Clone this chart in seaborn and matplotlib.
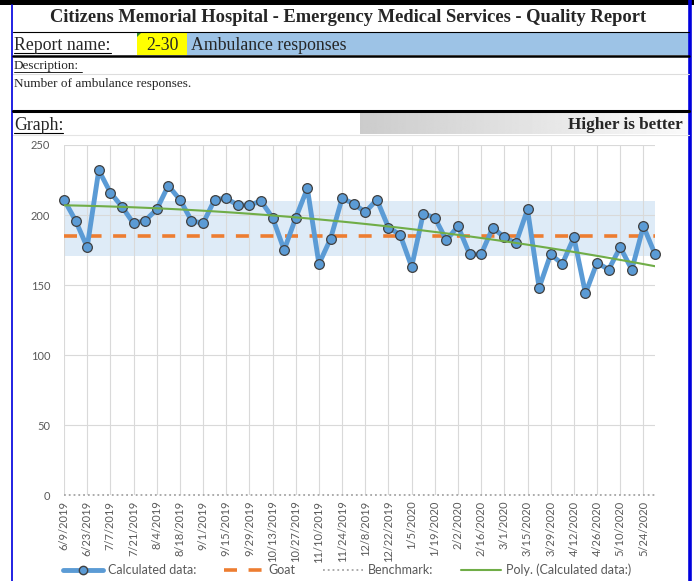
import numpy as np
import pandas as pd
import matplotlib
matplotlib.use("Agg")
import matplotlib.pyplot as plt
from matplotlib.patches import Rectangle, Polygon
from matplotlib.lines import Line2D
import seaborn as sns

# weekly ambulance responses, 6/9/2019 .. 5/31/2020
calculated = [211, 196, 177, 232, 216, 206, 194, 196, 204, 221,
              211, 196, 194, 211, 212, 207, 207, 210, 198, 175,
              198, 219, 165, 183, 212, 208, 202, 211, 191, 186,
              163, 201, 198, 182, 192, 172, 172, 191, 184, 180,
              204, 148, 172, 165, 184, 144, 166, 161, 177, 161,
              192, 172]
tick_labels = ["6/9/2019", "6/23/2019", "7/7/2019", "7/21/2019", "8/4/2019",
               "8/18/2019", "9/1/2019", "9/15/2019", "9/29/2019", "10/13/2019",
               "10/27/2019", "11/10/2019", "11/24/2019", "12/8/2019", "12/22/2019",
               "1/5/2020", "1/19/2020", "2/2/2020", "2/16/2020", "3/1/2020",
               "3/15/2020", "3/29/2020", "4/12/2020", "4/26/2020", "5/10/2020",
               "5/24/2020"]
goal = 185
benchmark = 0
band_low, band_high = 171, 210

sns.set_style("white")
plt.rcParams["font.family"] = ["Lato", "DejaVu Sans"]

W, H = 694, 581
fig = plt.figure(figsize=(W / 100, H / 100), dpi=100)

# header area, drawn in pixel coordinates
bg = fig.add_axes([0, 0, 1, 1])
bg.set_xlim(0, W)
bg.set_ylim(H, 0)
bg.axis("off")

serif = ["Liberation Serif", "DejaVu Serif"]
bg.add_patch(Rectangle((0, 0), W, 5, color="black", lw=0))
bg.plot([12.5, 12.5], [5, H], color="#1010e0", lw=1.3)
bg.plot([690.5, 690.5], [0, H], color="#0000dd", lw=2.6)

bg.text(348, 18, "Citizens Memorial Hospital - Emergency Medical Services - Quality Report",
        family=serif, weight="bold", fontsize=13.3, ha="center", va="center")
bg.plot([13, 689], [31.5, 31.5], color="black", lw=0.8)

bg.add_patch(Rectangle((187, 32), 502, 23, color="#9dc3e6", lw=0))
bg.add_patch(Rectangle((137, 32), 50, 23, color="#ffff00", lw=0))
bg.add_patch(Polygon([(137, 32), (142, 32), (137, 37)], color="#2e8b2e", lw=0))
bg.text(14, 45, "Report name:", family=serif, fontsize=12.8, va="center")
bg.plot([14, 111], [53, 53], color="black", lw=0.8)
bg.text(146, 45, "2-30", family=serif, fontsize=12.8, va="center")
bg.text(191, 45, "Ambulance responses", family=serif, fontsize=12.8, va="center")
bg.plot([13, 689], [56, 56], color="black", lw=1.8)

bg.text(14, 66, "Description:", family=serif, fontsize=9.5, va="center")
bg.plot([14, 82], [71.5, 71.5], color="black", lw=0.6)
bg.plot([13, 689], [74, 74], color="#dddddd", lw=0.8)
bg.text(14, 84, "Number of ambulance responses.", family=serif, fontsize=9.5, va="center")
bg.plot([13, 689], [110.5, 110.5], color="black", lw=2.2)

grad = np.linspace(0.80, 0.98, 256).reshape(1, -1)
bg.imshow(grad, cmap="gray", vmin=0, vmax=1, aspect="auto",
          extent=(360, 689, 134, 113), zorder=1)
bg.text(14, 125, "Graph:", family=serif, fontsize=12.8, va="center")
bg.plot([14, 63], [133, 133], color="black", lw=0.8)
bg.text(683, 125, "Higher is better", family=serif, weight="bold", fontsize=12.3,
        ha="right", va="center", zorder=2)
bg.plot([13, 689], [135, 135], color="#e4e4e4", lw=0.8)

# chart
ax = fig.add_axes([64 / W, 1 - 495 / H, 591 / W, 350 / H])
df = pd.DataFrame({"week": np.arange(len(calculated)), "responses": calculated})
coef = np.polyfit(df["week"], df["responses"], 2)
df["trend"] = np.polyval(coef, df["week"])

ax.axhspan(band_low, band_high, color="#deebf7", lw=0, zorder=0)
ax.axhline(goal, color="#ed7d31", lw=2.6, dashes=(3.6, 3.2), zorder=3)
ax.axhline(benchmark, color="#a5a5a5", lw=1.3, ls=":", zorder=3, clip_on=False)
sns.lineplot(data=df, x="week", y="responses", ax=ax, color="#5b9bd5", lw=3.5,
             marker="o", markersize=7, markerfacecolor="#5b9bd5",
             markeredgecolor="#404040", markeredgewidth=0.9, zorder=4, clip_on=False)
sns.lineplot(data=df, x="week", y="trend", ax=ax, color="#70ad47", lw=1.5, zorder=5)

ax.set_xlim(0, len(calculated) - 1)
ax.set_ylim(0, 250)
ax.set_yticks(range(0, 251, 50))
ax.set_xticks(range(0, len(calculated), 2))
ax.set_xticklabels(tick_labels, rotation=90)
ax.tick_params(axis="both", length=0, labelsize=8, labelcolor="#595959")
ax.tick_params(axis="x", pad=4)
ax.tick_params(axis="y", pad=10)
ax.grid(True, color="#d9d9d9", lw=0.8)
ax.set_axisbelow(True)
for s in ax.spines.values():
    s.set_visible(False)
ax.set_xlabel("")
ax.set_ylabel("")

handles = [
    Line2D([], [], color="#5b9bd5", lw=3.5, marker="o", markersize=6,
           markerfacecolor="#5b9bd5", markeredgecolor="#404040"),
    Line2D([], [], color="#ed7d31", lw=2.6, dashes=(3.6, 3.2)),
    Line2D([], [], color="#a5a5a5", lw=1.3, ls=":"),
    Line2D([], [], color="#70ad47", lw=1.5),
]
labels = ["Calculated data:", "Goat", "Benchmark:", "Poly. (Calculated data:)"]
fig.legend(handles, labels, loc="center", bbox_to_anchor=(0.5, 1 - 570 / H), ncol=4,
           frameon=False, fontsize=9, handlelength=3.2, columnspacing=2.2,
           handletextpad=0.4, labelcolor="#595959")

fig.savefig("out.png", dpi=100)
